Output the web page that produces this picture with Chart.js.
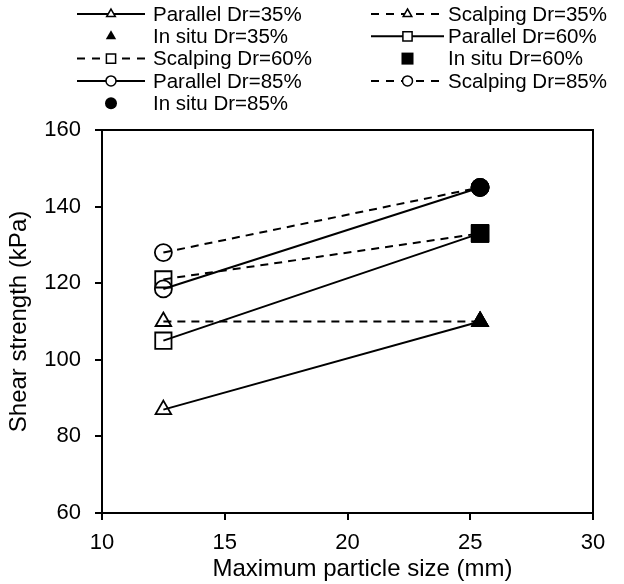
<!DOCTYPE html>
<html>
<head>
<meta charset="utf-8">
<script src="https://cdn.jsdelivr.net/npm/chart.js"></script>
<style>
  html, body { margin: 0; padding: 0; background: #fff; }
  #wrap { width: 624px; height: 584px; }
</style>
</head>
<body>
<div id="wrap"><canvas id="chart" width="624" height="584"></canvas></div>
<script>
// x values (mm)
const sizes = [12.5, 25.4];
const insituSize = [25.4];

// shear strength (kPa)
const parallel35 = [87, 110];
const scalping35 = [110, 110];
const insitu35 = [110];
const parallel60 = [105, 133];
const scalping60 = [121, 133];
const insitu60 = [133];
const parallel85 = [118.5, 145];
const scalping85 = [128, 145];
const insitu85 = [145];

const xTicks = [10, 15, 20, 25, 30];
const yTicks = [60, 80, 100, 120, 140, 160];
const xTitle = 'Maximum particle size (mm)';
const yTitle = 'Shear strength (kPa)';

const FONT = "'Liberation Sans', Arial, sans-serif";
const dashed = [8, 6];

function pts(xs, ys) {
  return xs.map((x, i) => ({ x: x, y: ys[i] }));
}

function lineSet(label, xs, ys, style, radius, dash) {
  return {
    label: label,
    data: pts(xs, ys),
    showLine: true,
    borderColor: '#000',
    borderWidth: 2,
    borderDash: dash,
    pointStyle: style,
    pointRadius: radius,
    pointHoverRadius: radius,
    pointBorderWidth: 1.8,
    pointBorderColor: '#000',
    pointBackgroundColor: 'rgba(0,0,0,0)',
    legendRadius: style === 'rect' ? 6.5 : 5,
    filled: false
  };
}

function pointSet(label, xs, ys, style, radius) {
  return {
    label: label,
    data: pts(xs, ys),
    showLine: false,
    borderColor: '#000',
    pointStyle: style,
    pointRadius: radius,
    pointHoverRadius: radius,
    pointBorderWidth: 1,
    pointBorderColor: '#000',
    pointBackgroundColor: '#000',
    legendRadius: style === 'rect' ? 8.5 : 6,
    filled: true
  };
}

const datasets = [
  lineSet('Parallel Dr=35%', sizes, parallel35, 'triangle', 9, []),
  lineSet('Scalping Dr=35%', sizes, scalping35, 'triangle', 9, dashed),
  pointSet('In situ Dr=35%', insituSize, insitu35, 'triangle', 10),
  lineSet('Parallel Dr=60%', sizes, parallel60, 'rect', 11.5, []),
  lineSet('Scalping Dr=60%', sizes, scalping60, 'rect', 11.5, dashed),
  pointSet('In situ Dr=60%', insituSize, insitu60, 'rect', 12.5),
  lineSet('Parallel Dr=85%', sizes, parallel85, 'circle', 8.5, []),
  lineSet('Scalping Dr=85%', sizes, scalping85, 'circle', 8.5, dashed),
  pointSet('In situ Dr=85%', insituSize, insitu85, 'circle', 9)
];

// simple marker drawer, same geometry as Chart.js point styles
function marker(ctx, style, x, y, r, filled) {
  ctx.beginPath();
  if (style === 'triangle') {
    ctx.moveTo(x, y - r);
    ctx.lineTo(x + r * Math.sin(2 * Math.PI / 3), y - r * Math.cos(2 * Math.PI / 3));
    ctx.lineTo(x + r * Math.sin(4 * Math.PI / 3), y - r * Math.cos(4 * Math.PI / 3));
    ctx.closePath();
  } else if (style === 'rect') {
    const s = r * Math.SQRT1_2;
    ctx.rect(x - s, y - s, 2 * s, 2 * s);
  } else {
    ctx.arc(x, y, r, 0, Math.PI * 2);
  }
  if (filled) {
    ctx.fill();
  } else {
    ctx.lineWidth = 1.5;
    ctx.stroke();
  }
}

const framePlugin = {
  id: 'frame',
  beforeDatasetsDraw(chart) {
    const a = chart.chartArea;
    const ctx = chart.ctx;
    ctx.save();
    ctx.strokeStyle = '#000';
    ctx.lineWidth = 2;
    ctx.strokeRect(a.left, a.top, a.right - a.left, a.bottom - a.top);
    // x axis title, sits a little right of the plot centre as in the source
    ctx.fillStyle = '#000';
    ctx.font = '24px ' + FONT;
    ctx.textAlign = 'center';
    ctx.textBaseline = 'middle';
    ctx.fillText(xTitle, (a.left + a.right) / 2 + 15, 569);
    ctx.restore();
  }
};

const legendPlugin = {
  id: 'customLegend',
  afterDraw(chart) {
    const ctx = chart.ctx;
    const cols = [{ x0: 77, x1: 145, tx: 153 }, { x0: 371, x1: 444, tx: 448 }];
    const rowTop = 14;
    const rowGap = 22.3;
    ctx.save();
    ctx.font = '20.5px ' + FONT;
    ctx.textBaseline = 'middle';
    ctx.fillStyle = '#000';
    ctx.strokeStyle = '#000';
    chart.data.datasets.forEach((ds, i) => {
      const c = cols[i % 2];
      const y = rowTop + Math.floor(i / 2) * rowGap;
      const mx = (c.x0 + c.x1) / 2;
      if (ds.showLine) {
        ctx.lineWidth = 2;
        ctx.setLineDash(ds.borderDash.length ? [8, 7] : []);
        ctx.beginPath();
        ctx.moveTo(c.x0, y);
        ctx.lineTo(c.x1, y);
        ctx.stroke();
        ctx.setLineDash([]);
        ctx.fillStyle = '#fff';
        marker(ctx, ds.pointStyle, mx, y, ds.legendRadius, true);
        ctx.fillStyle = '#000';
      }
      marker(ctx, ds.pointStyle, mx, y, ds.legendRadius, ds.filled);
      ctx.fillText(ds.label, c.tx, y + 1);
    });
    ctx.restore();
  }
};

new Chart(document.getElementById('chart').getContext('2d'), {
  type: 'scatter',
  data: { datasets: datasets },
  plugins: [framePlugin, legendPlugin],
  options: {
    responsive: false,
    animation: false,
    events: [],
    layout: { padding: { top: 130, right: 31, left: 0, bottom: 0 } },
    plugins: { legend: { display: false }, tooltip: { enabled: false } },
    scales: {
      x: {
        type: 'linear',
        min: 10,
        max: 30,
        afterBuildTicks(scale) { scale.ticks = xTicks.map(v => ({ value: v })); },
        afterFit(scale) { scale.height = 71; },
        border: { display: true, color: '#000', width: 2 },
        grid: { drawOnChartArea: false, drawTicks: true, tickLength: 7, color: '#000', lineWidth: 2 },
        ticks: { color: '#000', font: { family: FONT, size: 22 }, padding: 10, maxRotation: 0 },
        title: { display: false, text: xTitle }
      },
      y: {
        type: 'linear',
        min: 60,
        max: 160,
        afterBuildTicks(scale) { scale.ticks = yTicks.map(v => ({ value: v })); },
        afterFit(scale) { scale.width = 102; },
        border: { display: true, color: '#000', width: 2 },
        grid: { drawOnChartArea: false, drawTicks: true, tickLength: 7, color: '#000', lineWidth: 2 },
        ticks: { color: '#000', font: { family: FONT, size: 22 }, padding: 14 },
        title: { display: true, text: yTitle, color: '#000', font: { family: FONT, size: 24 }, padding: { top: 5, bottom: 0 } }
      }
    }
  }
});
</script>
</body>
</html>
